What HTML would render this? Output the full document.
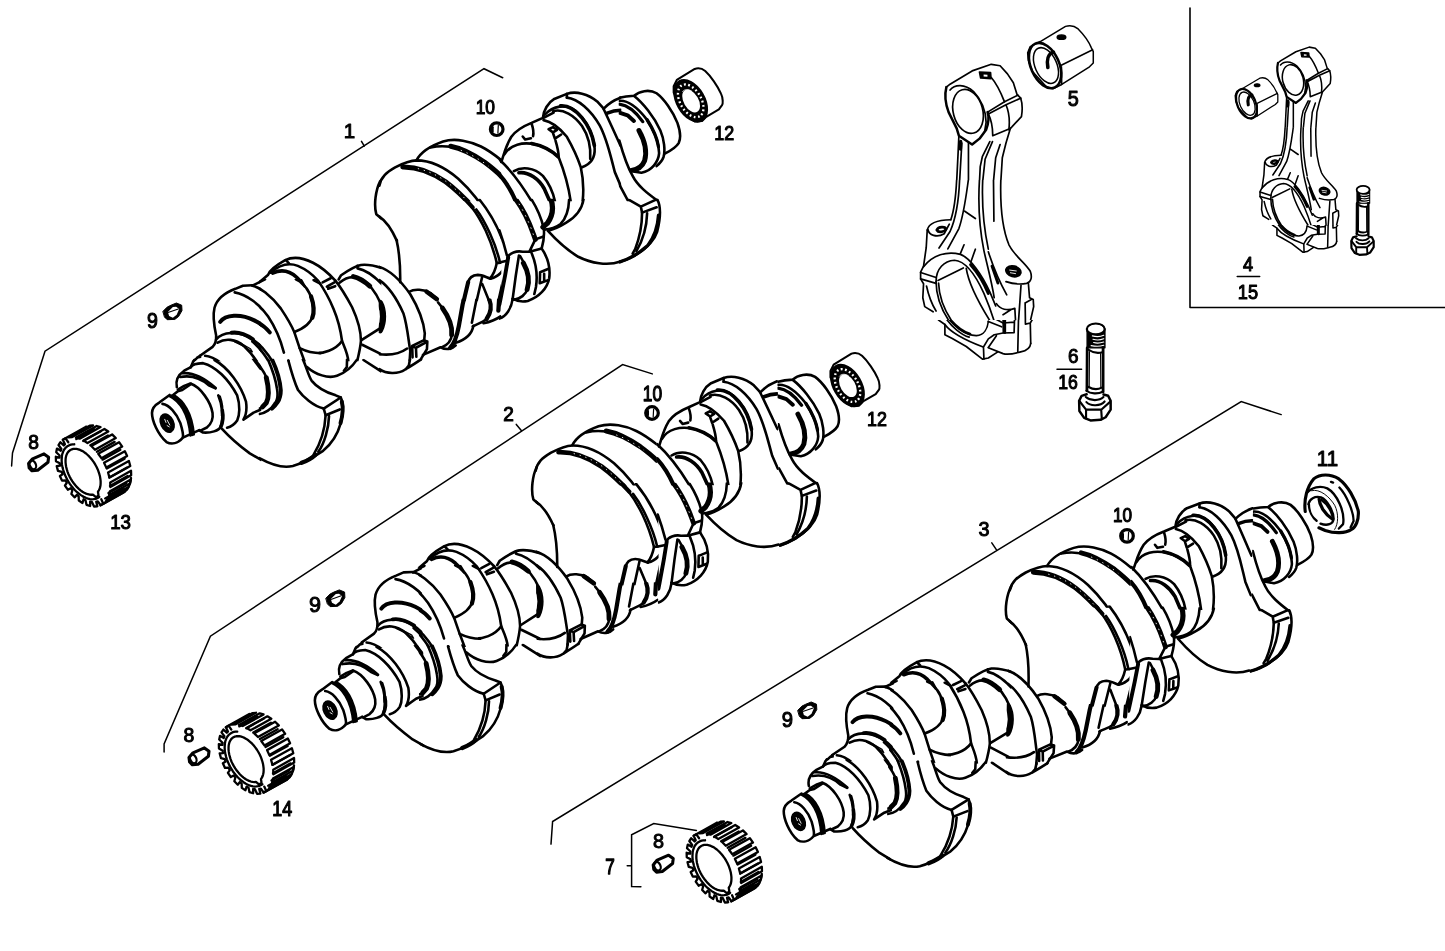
<!DOCTYPE html>
<html><head><meta charset="utf-8"><title>Crankshaft</title>
<style>
html,body{margin:0;padding:0;background:#fff;}
body{width:1445px;height:951px;overflow:hidden;}
svg{display:block;}
text{font-family:"Liberation Sans",sans-serif;fill:#000;stroke:#000;stroke-width:1px;stroke-linejoin:round;}
</style></head><body>
<svg width="1445" height="951" viewBox="0 0 1445 951" fill="none" stroke="#000" stroke-width="2.6" stroke-linecap="round" stroke-linejoin="round">
<defs>
<clipPath id="c1"><rect x="138.7" y="358.7" width="122.6" height="122.6"/></clipPath>
<clipPath id="c2"><rect x="178.7" y="338.7" width="22.6" height="22.6"/></clipPath>
<clipPath id="c3"><rect x="198.7" y="278.7" width="62.6" height="62.6"/><rect x="198.7" y="338.7" width="62.6" height="22.6"/></clipPath>
<clipPath id="c4"><rect x="258.7" y="278.7" width="62.6" height="62.6"/><rect x="258.7" y="338.7" width="62.6" height="22.6"/></clipPath>
<clipPath id="c5"><rect x="258.7" y="358.7" width="62.6" height="42.6"/><rect x="258.7" y="398.7" width="62.6" height="82.6"/><rect x="318.7" y="358.7" width="62.6" height="42.6"/><rect x="318.7" y="398.7" width="62.6" height="82.6"/></clipPath>
<clipPath id="c6"><rect x="258.7" y="238.7" width="62.6" height="42.6"/><rect x="318.7" y="238.7" width="62.6" height="42.6"/><rect x="318.7" y="278.7" width="62.6" height="62.6"/><rect x="318.7" y="338.7" width="62.6" height="22.6"/></clipPath>
<clipPath id="c7"><rect x="458.7" y="198.7" width="42.6" height="42.6"/><rect x="458.7" y="238.7" width="42.6" height="42.6"/><rect x="458.7" y="278.7" width="42.6" height="22.6"/></clipPath>
<clipPath id="c8"><rect x="378.7" y="238.7" width="82.6" height="42.6"/><rect x="378.7" y="278.7" width="82.6" height="22.6"/><rect x="378.7" y="298.7" width="82.6" height="42.6"/><rect x="378.7" y="338.7" width="82.6" height="22.6"/><rect x="458.7" y="298.7" width="42.6" height="42.6"/><rect x="458.7" y="338.7" width="42.6" height="22.6"/></clipPath>
<clipPath id="c9"><rect x="378.7" y="358.7" width="82.6" height="42.6"/><rect x="378.7" y="398.7" width="82.6" height="82.6"/><rect x="458.7" y="358.7" width="42.6" height="42.6"/><rect x="458.7" y="398.7" width="42.6" height="82.6"/></clipPath>
<clipPath id="c10"><rect x="378.7" y="118.7" width="82.6" height="82.6"/><rect x="378.7" y="198.7" width="82.6" height="42.6"/><rect x="458.7" y="118.7" width="42.6" height="82.6"/></clipPath>
<clipPath id="c11"><rect x="338.7" y="148.7" width="42.6" height="52.6"/><rect x="338.7" y="198.7" width="42.6" height="42.6"/></clipPath>
<clipPath id="c12"><rect x="498.7" y="78.7" width="122.6" height="42.6"/><rect x="498.7" y="118.7" width="122.6" height="32.6"/><rect x="498.7" y="148.7" width="122.6" height="52.6"/></clipPath>
<clipPath id="c13"><rect x="618.7" y="78.7" width="122.6" height="42.6"/><rect x="618.7" y="118.7" width="122.6" height="32.6"/><rect x="618.7" y="148.7" width="122.6" height="52.6"/></clipPath>
<clipPath id="c14"><rect x="498.7" y="198.7" width="122.6" height="42.6"/><rect x="498.7" y="238.7" width="122.6" height="12.6"/><rect x="498.7" y="248.7" width="122.6" height="32.6"/><rect x="498.7" y="278.7" width="122.6" height="22.6"/><rect x="498.7" y="298.7" width="122.6" height="22.6"/></clipPath>
<clipPath id="c15"><rect x="618.7" y="198.7" width="122.6" height="42.6"/><rect x="618.7" y="238.7" width="122.6" height="12.6"/><rect x="618.7" y="248.7" width="122.6" height="32.6"/><rect x="618.7" y="278.7" width="122.6" height="22.6"/><rect x="618.7" y="298.7" width="122.6" height="22.6"/></clipPath>
<clipPath id="c16"><rect x="899.95" y="39.95" width="140.1" height="140.1"/></clipPath>
<clipPath id="c17"><rect x="899.95" y="179.95" width="140.1" height="140.1"/></clipPath>
<clipPath id="c18"><rect x="899.95" y="319.95" width="140.1" height="100.1"/></clipPath>
<g id="bolt">
<g><g transform="translate(1040 310) scale(0.126183)" stroke-width="20.61"><!-- bolt_6.frag -->
<g stroke-width="16.9">
<ellipse cx="442" cy="150" rx="70" ry="42" stroke-width="19.5"/>
<path d="M373,150 L373,300 L515,300 L515,150 Z" fill="#000" stroke-width="10.0"/>
<ellipse cx="442" cy="150" rx="62" ry="34" fill="#fff" stroke="none"/>
<path d="M415,205 C450,215 480,212 505,200 M420,232 C455,242 480,238 505,228 M425,258 C455,266 480,262 505,254 M405,282 C450,292 480,288 505,280" stroke="#fff" stroke-width="9.0"/>
<path d="M374,300 L372,640 M500,300 L500,650" stroke-width="22.1"/>
<path d="M392,330 L390,610 M480,345 L482,610" stroke-width="9.0"/>
<path d="M385,315 C420,340 460,345 495,335 M385,610 C420,630 460,630 490,615"/>
<path d="M368,640 C400,665 460,668 497,648 M363,690 C400,722 470,722 503,690 M368,730 C400,765 480,762 512,725"/>
<path d="M370,668 L330,680 L310,720 L312,800 L350,855 L400,875 L480,870 L520,850 L560,790 L560,720 L540,680 L503,670" stroke-width="19.5"/>
<path d="M315,725 L365,790 L485,790 L555,728 M365,790 L365,860 M485,790 L490,865"/>
</g>
</g></g>
</g>
<g id="brg">
<g><g transform="translate(660 60) scale(0.105152)" stroke-width="24.73"><!-- brg_12.frag -->
<g stroke-width="19.5">
<path d="M130,250 L160,190 L330,85 C360,75 400,80 430,105 C480,150 550,250 580,320 C600,360 600,420 590,430 L560,470 L440,540 L400,580 L330,585 L250,530 L170,400 L130,310 Z"/>
<ellipse cx="292" cy="388" rx="215" ry="130" transform="rotate(60 292 388)" fill="#000"/>
<ellipse cx="292" cy="388" rx="170" ry="100" transform="rotate(60 292 388)" stroke="#fff" stroke-width="22.1" stroke-dasharray="17 24" stroke-linecap="butt"/>
<ellipse cx="296" cy="390" rx="118" ry="70" transform="rotate(60 296 390)" fill="#fff" stroke="none"/>
<path d="M215,300 C230,275 270,275 300,295" stroke="#fff" stroke-width="7.0"/>
</g>
</g></g>
</g>
<g id="bush">
<g><g transform="translate(1010 10) scale(0.126183)" stroke-width="20.61"><!-- bush_5.frag -->
<g stroke-width="12.0">
<path d="M140,340 L160,290 L240,250 L440,130 C470,120 510,125 540,150 C580,190 625,250 645,300 L660,330 L660,420 L630,450 L410,590 L340,625 L290,610 L180,490 L145,400 Z"/>
<ellipse cx="278" cy="440" rx="112" ry="190" transform="rotate(-24 278 440)" stroke-width="20.8"/>
<ellipse cx="285" cy="440" rx="86" ry="150" transform="rotate(-24 285 440)"/>
<path d="M402,440 L655,315 M408,450 L410,590"/>
<ellipse cx="408" cy="215" rx="34" ry="17" fill="#000"/>
<path d="M345,335 C300,345 290,400 300,455" stroke-width="28.6"/>
</g>
</g></g>
</g>
<g id="crank">
<g id="crank_A"><g clip-path="url(#c1)"><g transform="translate(140 360) scale(0.126183)" stroke-width="20.61"><!-- crank_A.frag -->
<path d="M235,277 L155,335 C120,355 95,380 95,420 C95,480 140,590 210,650 C250,672 300,662 340,615 L470,556"/>
<path d="M178,348 C230,355 290,420 320,500 C335,550 345,590 340,612"/>
<ellipse cx="215" cy="500" rx="46" ry="72" transform="rotate(-25 215 500)" fill="#000"/>
<path d="M196,470 L206,495 M216,478 L236,515 M215,520 L232,530" stroke="#fff" stroke-width="7.0"/>
<path d="M235,285 C310,320 385,420 400,597"/>
<path d="M250,282 C325,318 398,420 413,594"/>
<path d="M265,278 C340,316 412,420 426,590"/>
<path d="M265,275 L300,247 L335,238 L405,190"/>
<path d="M300,235 L350,205 L395,188"/>
<path d="M400,187 C480,215 560,330 575,420 C582,470 560,510 530,535 L480,560"/>
<path d="M292,215 C282,170 300,120 350,85 L400,58 C420,35 440,28 500,25 C600,50 700,150 770,280 C795,360 790,440 770,480 C750,510 720,530 690,537"/>
<path d="M340,105 C440,95 540,170 600,222"/>
<path d="M318,135 C420,115 500,160 545,200 L598,225"/>
<path d="M620,280 C650,350 665,450 640,530 C625,560 560,580 500,575 L470,557"/>
<path d="M652,400 C662,450 655,500 640,530" stroke-width="28.6"/>
<path d="M632,290 C650,340 655,400 650,440"/>
<path d="M590,0 C700,60 800,200 840,330 C850,400 840,440 820,472 L900,417 L960,392"/>
<path d="M650,545 C700,600 750,650 870,740 L960,792"/>
<path d="M900,-10 L958,66" stroke-width="28.6"/>
<path d="M402,58 L420,16 L436,-8"/>
</g></g>
</g>
<g id="crank_A2"><g clip-path="url(#c2)"><g transform="translate(180 340) scale(0.115668)" stroke-width="22.48"><!-- crank_A2.frag -->
<path d="M95,236 L112,190 L150,152 L180,132 M150,152 C175,142 200,138 225,140"/>
</g></g>
</g>
<g id="crank_B"><g clip-path="url(#c3)"><g transform="translate(200 280) scale(0.126183)" stroke-width="20.61"><!-- crank_B.frag -->
<path d="M0,600 L100,530 C120,510 130,480 128,440 C115,380 100,280 115,220 C135,150 200,100 280,70 L340,45 L415,42"/>
<path d="M415,45 L515,-5"/>
<path d="M415,45 C470,55 560,120 640,225 C690,300 730,370 748,415 C775,500 810,600 850,700 C870,760 900,810 960,850"/>
<path d="M275,98 C370,115 470,190 540,290 C600,380 640,480 665,575"/>
<path d="M160,332 C200,275 320,265 430,320 C490,350 530,385 553,415" stroke-width="31.2"/>
<path d="M128,470 C180,410 300,400 400,460 C500,520 600,650 635,800 L640,960"/>
<path d="M250,418 C300,410 360,430 420,470" stroke-width="31.2"/>
<path d="M140,497 C200,460 280,465 350,525 C420,590 490,700 530,800 L540,960"/>
<path d="M535,800 L545,960" stroke-width="44.2"/>
<path d="M275,490 L345,525 L415,570 L400,545 L330,505 Z" stroke-width="10.0"/>
<path d="M415,488 C480,540 560,650 600,760 L615,960"/>
<path d="M40,600 C120,605 200,680 260,750 C310,820 335,890 350,960"/>
<path d="M0,663 C90,675 180,740 240,820 C275,880 295,930 300,960"/>
<path d="M0,765 L60,805 L120,865 M0,795 L50,830 L100,875 M0,880 L55,960 M150,915 L165,960"/>
<path d="M700,640 C720,720 750,810 780,875 L850,960"/>
<path d="M748,412 C830,380 880,340 895,280 C905,200 880,110 840,60 L790,10 L760,-5"/>
<path d="M880,130 C905,200 905,260 890,300" stroke-width="33.8"/>
<path d="M800,0 L830,50 M900,0 L960,32"/>
<path d="M790,540 C850,570 900,580 960,580"/>
<path d="M835,680 C880,710 920,720 960,722"/>
<path d="M870,765 L885,730 L960,790"/>
</g></g>
</g>
<g id="crank_B2"><g clip-path="url(#c4)"><g transform="translate(200 280) scale(0.126183)" stroke-width="20.61"><!-- crank_B2.frag -->
<path d="M0,600 L100,530 C120,510 130,480 128,440 C115,380 100,280 115,220 C135,150 200,100 280,70 L340,45 L415,42"/>
<path d="M415,45 L515,-5"/>
<path d="M415,45 C470,55 560,120 640,225 C690,300 730,370 748,415 C775,500 810,600 850,700 C870,760 900,810 960,850"/>
<path d="M275,98 C370,115 470,190 540,290 C600,380 640,480 665,575"/>
<path d="M160,332 C200,275 320,265 430,320 C490,350 530,385 553,415" stroke-width="31.2"/>
<path d="M128,470 C180,410 300,400 400,460 C500,520 600,650 635,800 L640,960"/>
<path d="M250,418 C300,410 360,430 420,470" stroke-width="31.2"/>
<path d="M140,497 C200,460 280,465 350,525 C420,590 490,700 530,800 L540,960"/>
<path d="M535,800 L545,960" stroke-width="44.2"/>
<path d="M275,490 L345,525 L415,570 L400,545 L330,505 Z" stroke-width="10.0"/>
<path d="M415,488 C480,540 560,650 600,760 L615,960"/>
<path d="M40,600 C120,605 200,680 260,750 C310,820 335,890 350,960"/>
<path d="M0,663 C90,675 180,740 240,820 C275,880 295,930 300,960"/>
<path d="M0,765 L60,805 L120,865 M0,795 L50,830 L100,875 M0,880 L55,960 M150,915 L165,960"/>
<path d="M700,640 C720,720 750,810 780,875 L850,960"/>
<path d="M748,412 C830,380 880,340 895,280 C905,200 880,110 840,60 L790,10 L760,-5"/>
<path d="M880,130 C905,200 905,260 890,300" stroke-width="33.8"/>
<path d="M800,0 L830,50 M900,0 L960,32"/>
<path d="M790,540 C850,570 900,580 960,580"/>
<path d="M835,680 C880,710 920,720 960,722"/>
<path d="M870,765 L885,730 L960,790"/>
</g></g>
</g>
<g id="crank_C"><g clip-path="url(#c5)"><g transform="translate(260 360) scale(0.126183)" stroke-width="20.61"><!-- crank_C.frag -->
<path d="M-45,-5 C10,60 45,110 58,160 C75,230 75,290 50,340 C35,370 15,382 -5,385"/>
<path d="M50,140 C72,230 75,290 50,340 L20,372" stroke-width="39.0"/>
<path d="M63,-5 C100,80 125,160 135,230 C145,290 130,330 115,345 C90,390 40,422 -5,428"/>
<path d="M95,-5 C135,80 160,170 165,240 C165,290 150,320 140,335 C130,350 110,375 95,385" stroke-width="31.2"/>
<path d="M225,5 C250,100 280,190 300,235 C340,290 420,365 505,385"/>
<path d="M340,-5 C370,60 385,130 410,165 C450,215 520,255 600,280 L640,297"/>
<path d="M372,55 C440,115 540,150 610,125 C680,100 740,40 770,-5"/>
<path d="M690,-5 L688,55 L665,85 M820,0 L960,90"/>
<path d="M505,385 L640,297 C665,340 660,420 640,500 C615,590 560,670 500,720 L430,765"/>
<path d="M648,330 C662,380 655,440 638,500" stroke-width="31.2"/>
<path d="M505,385 L520,438 L632,392"/>
<path d="M520,438 C515,540 480,660 425,750"/>
<path d="M547,445 C545,540 510,660 462,728"/>
<path d="M-5,778 C80,825 180,860 260,840 C330,820 400,780 440,750"/>
<path d="M330,815 C380,795 420,770 440,750" stroke-width="33.8"/>
</g></g>
</g>
<g id="crank_D"><g clip-path="url(#c6)"><g transform="translate(260 240) scale(0.126183)" stroke-width="20.61"><!-- crank_D.frag -->
<path d="M-5,335 L65,275 C75,240 120,205 200,160 C250,135 330,135 420,180 C490,215 550,270 597,322"/>
<path d="M85,258 C150,200 220,175 300,205 C360,230 420,275 463,326 C500,380 560,490 583,546 C610,610 640,720 650,800 C670,850 695,900 700,960"/>
<path d="M205,160 L230,185"/>
<path d="M100,262 C160,235 230,240 290,295 L335,340" stroke-width="28.6"/>
<path d="M370,385 C420,480 445,570 410,635" stroke-width="41.6"/>
<path d="M410,635 C380,675 320,700 278,718"  stroke-width="28.6"/>
<path d="M496,336 L560,303 M530,369 L590,336 M540,386 L596,366"/>
<path d="M597,322 C620,350 680,440 730,533 C770,620 800,720 800,800 C795,860 780,920 770,960"/>
<path d="M623,313 L643,279 C700,240 760,205 800,198 C860,190 940,210 1030,246"/>
<path d="M630,339 C680,295 730,280 796,306 C860,340 920,420 955,500"/>
<path d="M740,290 C790,300 830,330 870,365" stroke-width="39.0"/>
<path d="M773,205 L773,225 C830,235 900,280 976,359"/>
<path d="M650,800 C600,870 500,905 420,895 C350,885 300,830 278,720"/>
<path d="M810,790 L960,695 M810,830 L960,905"/>
</g></g>
</g>
<g id="crank_E"><g clip-path="url(#c7)"><g transform="translate(460 200) scale(0.105152)" stroke-width="24.73"><!-- crank_E.frag -->
<path d="M50,-5 L120,70" stroke-width="39.0"/>
<path d="M110,65 C200,180 300,380 350,600"/>
<path d="M155,90 C240,200 340,420 378,585"/>
<path d="M185,-5 C270,100 350,240 400,370 L452,530 L458,600"/>
<path d="M350,600 L445,590 M350,600 C340,650 320,710 285,745 M445,592 C420,670 370,730 290,748"/>
<path d="M75,790 C85,740 110,715 170,712 C210,712 250,735 290,748"/>
<path d="M78,780 L35,960" stroke-width="39.0"/>
<path d="M210,735 L158,960 M212,800 L275,955"/>
<path d="M455,600 L415,760 L370,960" stroke-width="33.8"/>
<path d="M455,535 C490,495 560,480 650,500"/>
</g></g>
</g>
<g id="crank_F"><g clip-path="url(#c8)"><g transform="translate(380 240) scale(0.126183)" stroke-width="20.61"><!-- crank_F.frag -->
<path d="M130,-5 C150,80 162,200 160,335"/>
<path d="M-5,213 C80,240 170,330 240,430 C300,530 345,640 355,740 L350,800"/>
<path d="M-5,318 C70,370 140,480 185,580 C215,670 225,790 240,880 L235,960"/>
<path d="M0,500 C32,560 32,650 0,715" stroke-width="49.4"/>
<path d="M232,410 C270,385 350,390 400,420 L455,470"/>
<path d="M370,410 L450,468" stroke-width="36.4"/>
<path d="M460,495 C520,560 575,660 570,750 C565,800 530,835 488,852"/>
<path d="M495,540 C545,610 575,680 568,750" stroke-width="39.0"/>
<path d="M255,840 L345,795 L375,805 L285,855 Z M255,840 L258,930 M285,855 L288,925 M375,805 L372,865 L320,950 M292,850 L345,822"/>
<path d="M-5,905 C80,915 160,900 215,860"/>
<path d="M340,910 L480,850 C520,872 570,868 600,835"/>
<path d="M720,290 C695,310 690,340 680,400 L655,510 L625,680 C610,760 590,820 555,855" stroke-width="33.8"/>
<path d="M720,290 C760,270 810,275 850,290 L880,295 C915,260 930,200 925,140 C915,80 890,30 870,-5"/>
<path d="M900,-5 C925,40 945,90 955,140 M930,-5 L955,60"/>
<path d="M808,292 L765,470 L728,655 M740,680 C730,740 680,790 600,815"/>
<path d="M808,340 L850,430 L868,470"/>
<path d="M862,455 C885,520 880,580 840,630 C810,655 770,665 735,685"/>
<path d="M866,470 C885,520 878,580 845,625" stroke-width="33.8"/>
<path d="M950,380 L938,560" stroke-width="33.8"/>
<path d="M820,660 C870,650 920,630 955,605"/>
</g></g>
</g>
<g id="crank_G"><g clip-path="url(#c9)"><g transform="translate(380 360) scale(0.126183)" stroke-width="20.61"><!-- crank_G.frag -->
<path d="M-5,72 C50,110 140,115 200,75 C250,45 290,20 325,-5 M238,-5 L228,45 L205,72"/>
</g></g>
</g>
<g id="crank_H"><g clip-path="url(#c10)"><g transform="translate(380 120) scale(0.126183)" stroke-width="20.61"><!-- crank_H.frag -->
<path d="M-5,520 C10,450 50,415 120,375 C180,345 240,322 290,320 C400,320 520,380 620,465 C720,555 820,690 880,800 L955,960"/>
<path d="M180,372 C300,370 420,420 520,490 C620,565 690,640 745,700" stroke-width="39.0"/>
<path d="M300,385 C400,410 480,450 560,515 C630,575 690,640 735,690" stroke="#fff" stroke-width="7.0" stroke-dasharray="10 38" stroke-linecap="butt"/>
<path d="M745,700 C790,770 840,860 870,960 M770,712 C820,790 870,870 900,960"/>
<path d="M290,318 C320,260 400,205 500,170 C600,140 720,170 800,210 C860,240 920,285 960,318"/>
<path d="M400,218 C520,190 650,225 750,285"/>
<path d="M560,208 C650,225 750,280 830,335 C890,380 930,415 960,445" stroke-width="39.0"/>
<path d="M640,240 C720,270 800,320 860,365" stroke="#fff" stroke-width="7.0" stroke-dasharray="10 40" stroke-linecap="butt"/>
<path d="M-5,765 C50,800 100,880 135,960"/>
</g></g>
</g>
<g id="crank_H0"><g clip-path="url(#c11)"><g transform="translate(340 150) scale(0.105152)" stroke-width="24.73"><!-- crank_H0.frag -->
<path d="M720,90 C600,120 450,200 380,300 C340,380 320,520 345,610 L450,700 C520,780 555,860 570,960"/>
</g></g>
</g>
<g id="crank_I"><g clip-path="url(#c12)"><g transform="translate(500 80) scale(0.126183)" stroke-width="20.61"><!-- crank_I.frag -->
<path d="M10,650 C30,600 40,530 90,450 C130,395 200,360 250,340 L340,300 C345,240 380,180 430,150 L530,110 C600,85 700,110 770,170 L820,225"/>
<path d="M35,590 C80,510 180,490 280,510 C350,530 420,570 460,608"/>
<path d="M250,503 C340,520 420,570 460,608" stroke-width="28.6"/>
<path d="M250,345 C262,380 268,420 262,445 M180,448 L200,472 L245,462 M385,390 L420,373 L452,395 L420,415 Z M420,420 L435,465 L485,432"/>
<path d="M345,318 C410,330 480,390 530,450 C570,520 610,600 640,690 C660,780 665,870 655,960"/>
<path d="M440,480 C455,530 465,570 465,612 C500,700 540,820 560,960"/>
<path d="M355,275 C420,205 520,185 600,245 C680,310 740,430 750,540 C755,620 710,670 650,692"/>
<path d="M480,205 C540,200 600,240 650,300 C700,360 735,440 748,520" stroke-width="28.6"/>
<path d="M420,247 C500,225 590,280 650,365 C700,440 720,540 715,625"/>
<path d="M345,300 L425,258 M530,110 L530,140"/>
<path d="M530,140 C620,150 720,240 790,360 C850,470 880,620 910,730 L955,835"/>
<path d="M820,228 C850,290 900,400 955,520 M820,228 C860,185 900,160 955,140"/>
<path d="M850,262 C890,245 920,240 955,240" stroke-width="28.6"/>
<path d="M-5,630 C60,690 160,810 250,960"/>
<path d="M110,722 C170,685 270,690 340,760 C390,820 420,890 435,960"/>
<path d="M150,735 C230,725 310,790 350,860 L395,960" stroke-width="28.6"/>
<path d="M-5,750 C50,810 90,880 125,960" stroke-width="33.8"/>
</g></g>
</g>
<g id="crank_K"><g clip-path="url(#c13)"><g transform="translate(620 80) scale(0.126183)" stroke-width="20.61"><!-- crank_K.frag -->
<path d="M-5,140 C40,130 80,127 112,125 C150,90 230,70 290,105 C350,150 420,250 455,340 C480,410 480,470 465,500 C440,540 400,560 358,582"/>
<path d="M112,127 C180,180 270,290 320,400 C350,470 360,560 345,610 C335,640 310,665 290,682"/>
<path d="M-5,165 C60,160 140,220 210,310 C270,400 310,500 310,580 C305,650 250,720 170,735 L105,725"/>
<path d="M215,315 C260,385 295,460 305,530" stroke-width="26.0"/>
<path d="M-5,192 C60,200 130,260 180,330" stroke-width="26.0"/>
<path d="M-5,258 L60,280 L110,325" stroke-width="31.2"/>
<path d="M150,400 C195,480 215,570 195,640 C175,690 130,712 90,716" stroke-width="39.0"/>
<path d="M-5,480 C20,570 60,690 100,760 C140,840 220,900 295,955 M-5,830 L65,960"/>
</g></g>
</g>
<g id="crank_L"><g clip-path="url(#c14)"><g transform="translate(500 200) scale(0.126183)" stroke-width="20.61"><!-- crank_L.frag -->
<path d="M125,-5 C180,70 230,170 265,270 L280,312" stroke-width="39.0"/>
<path d="M150,30 C200,110 240,200 268,285" stroke="#fff" stroke-width="7.0" stroke-dasharray="12 40" stroke-linecap="butt"/>
<path d="M250,-5 C290,60 330,150 345,220 C355,270 345,330 330,385"/>
<path d="M405,-5 C425,60 415,130 375,185 L340,215" stroke-width="41.6"/>
<path d="M548,-5 C545,70 520,150 480,190 C440,220 400,232 352,235"/>
<path d="M662,-5 C650,70 600,135 525,180 C480,208 430,232 385,243"/>
<path d="M380,245 C430,300 520,390 620,450 C720,500 850,525 955,488"/>
<path d="M280,312 L345,290 M280,312 L235,405 M235,410 C270,400 300,392 330,385"/>
<path d="M330,385 C375,450 400,540 390,620 C375,700 310,770 220,800 C170,810 130,800 100,782"/>
<path d="M250,420 C280,490 300,590 285,690 L272,745"/>
<path d="M318,572 L385,545 M318,572 L315,660 L382,635 M350,585 L350,640"/>
<path d="M60,455 C75,420 130,400 180,410 L235,410"/>
<path d="M150,440 L125,600 L100,785"/>
<path d="M160,445 C210,520 240,620 220,700 C205,750 160,785 110,790"/>
<path d="M185,500 C225,570 235,650 215,710" stroke-width="39.0"/>
<path d="M65,455 L40,600 L5,780 L-5,830" stroke-width="31.2"/>
<path d="M100,785 C90,860 50,920 -5,940"/>
<path d="M-5,240 C20,310 40,380 55,440 M-5,495 L55,482"/>
</g></g>
</g>
<g id="crank_M"><g clip-path="url(#c15)"><g transform="translate(620 200) scale(0.126183)" stroke-width="20.61"><!-- crank_M.frag -->
<path d="M65,-5 L165,52 L290,-5 M165,52 L175,100 L290,58"/>
<path d="M295,-5 C325,50 320,150 295,250 C270,330 200,390 120,440 C80,462 40,480 -5,492"/>
<path d="M305,120 C300,200 275,290 220,360 C160,415 80,465 0,490" stroke-width="26.0"/>
<path d="M175,100 C175,200 155,300 120,390 L100,425"/>
<path d="M215,105 C212,210 180,320 130,405"/>
</g></g>
</g>
</g>
<g id="gear">
<g><g transform="translate(20 415) scale(0.126183)" stroke-width="20.61"><!-- gear_a.frag -->
<g stroke-width="18.2" stroke-linejoin="round"><path d="M644,668 L660,703 L639,715 L617,684 L611,686 L611,686 L604,687 L613,723 L587,725 L570,689 L563,689 L563,689 L556,687 L556,721 L527,712 L519,676 L511,672 L511,672 L504,668 L495,697 L466,678 L465,644 L458,638 L458,638 L451,632 L434,653 L407,626 L415,596 L408,588 L408,588 L402,580 L379,592 L356,559 L371,537 L366,528 L366,528 L361,518 L333,520 L316,483 L338,470 L334,460 L334,460 L331,451 L301,443 L291,405 L318,402 L316,393 L316,393 L315,383 L285,366 L284,331 L313,338 L313,329 L313,329 L314,321 L287,295 L293,266 L323,283 L325,276 L325,276 L328,269 L305,238 L320,216 L347,241 L351,236 L351,236 L356,232 L340,197 L361,185 L383,216"/>
<path d="M629,649 L619,656 L607,662 L595,665 L582,667 L569,668 L555,666 L540,663 L525,658 L510,651 L495,643 L480,633 L465,622 L450,610 L436,596 L422,581 L409,565 L396,548 L385,530 L374,511 L364,492 L356,473 L348,454 L342,434 L337,415 L333,396 L331,377 L330,359 L331,342 L332,326 L335,310 L340,296 L345,283 L352,271 L360,261 L370,252 L380,245 L391,239 L403,235 L416,233 L430,232"/>
<path d="M578,631 L565,632 L552,631 L538,628 L524,623 L509,616 L495,608 L480,597 L466,585 L452,572 L439,557 L426,541 L414,524 L403,506 L393,488 L384,469 L377,450 L371,431 L366,412 L363,393 L361,376 L361,359 L362,343 L365,328 L369,315 L375,303 L382,292 L390,284 L400,277 L411,272 L422,269 L435,268 L448,269 L462,272 L476,277 L491,284 L505,292 L520,303 L534,315 L548,328 L561,343 L574,359 L586,376 L597,394 L607,412 L616,431 L623,450 L629,469 L634,488 L637,507 L639,524 L639,541 L638,557 L635,572 L631,585 L625,597 L618,608 L622,637 L604,653 Z"/>
<path d="M339,197 L504,105 L527,92 L362,184 Z"/>
<path d="M387,177 L552,85 L579,83 L414,175 Z"/>
<path d="M446,191 L587,112"/>
<path d="M443,179 L608,87 L638,96 L473,188 Z"/>
<path d="M501,206 L641,128"/>
<path d="M504,203 L669,111 L700,130 L535,222 Z"/>
<path d="M557,240 L697,162"/>
<path d="M565,246 L730,154 L759,183 L594,275 Z"/>
<path d="M609,291 L750,213"/>
<path d="M620,307 L785,215 L810,250 L645,342 Z"/>
<path d="M654,354 L795,276"/>
<path d="M666,379 L831,287 L849,325 L684,417 Z"/>
<path d="M688,424 L829,346"/>
<path d="M698,456 L863,364 L874,404 L709,496 Z"/>
<path d="M708,495 L849,417"/>
<path d="M715,534 L880,442 L881,478 L716,570 Z"/>
<path d="M713,562 L853,484"/>
<path d="M713,604 L878,512 L871,543 L706,635 Z"/>
<path d="M701,619 L842,541"/>
<path d="M695,662 L860,570 L845,593 L680,685 Z"/>
<path d="M675,661 L815,583"/>
<path d="M661,703 L826,611 L803,624 L638,716 Z"/>
<path d="M661,703 L826,611"/>
<path d="M830,607 L838,600 L846,591 L853,582 L859,573 L864,562 L869,551 L873,539 L876,526 L878,513 L880,499"/></g>
</g></g>
</g>
<g id="rod">
<g clip-path="url(#c16)"><g transform="translate(900 40) scale(0.147213)" stroke-width="17.66"><!-- rod_1.frag -->
<g stroke-width="11.5">
<path d="M315,320 L340,300 L490,210 L620,165 L680,175 L730,230 L770,290 L795,370 L820,395 C835,440 830,490 825,520 L760,590 L740,610"/>
<path d="M315,320 C300,380 315,450 330,490 L385,600 L400,650 L490,710 L540,670 L585,610 C600,570 605,520 595,490" stroke-width="16.9"/>
<ellipse cx="462" cy="485" rx="100" ry="152" transform="rotate(-15 462 485)"/>
<path d="M340,340 C370,300 440,295 500,350 C550,400 585,480 585,560 L575,620"/>
<path d="M540,218 L615,222 L618,262 L548,258 Z" fill="#000"/><path d="M568,234 L594,236 L594,250 L568,248 Z" fill="#fff" stroke="none"/>
<path d="M620,255 C660,300 690,370 710,420"/>
<path d="M595,490 L710,420 L800,375 M600,503 L720,440 L820,395 M720,440 C745,500 745,560 740,605 M597,495 C620,540 630,600 630,650 L740,605"/>
<path d="M400,650 L395,760 L385,960 M420,700 L405,960 M465,700 L465,960 M610,690 L560,790 L545,860 L540,960 M628,690 L578,810 L562,960 M680,710 L650,800 L635,960 M750,600 L720,700 L695,800 L685,960"/>
<path d="M412,690 L410,740" stroke-width="23.4"/>
</g>
</g></g>
<g clip-path="url(#c17)"><g transform="translate(900 180) scale(0.147213)" stroke-width="17.66"><!-- rod_2.frag -->
<g stroke-width="11.5">
<path d="M385,-5 C380,100 370,200 345,270 M405,-5 C400,130 385,250 340,350 L265,462 M465,-5 C450,100 435,230 400,330 L325,468 M440,212 L512,262"/>
<path d="M540,-5 C530,150 540,330 570,480 C590,570 625,700 640,800 M562,-5 C555,150 570,330 600,470 M635,-5 L638,280"/>
<path d="M685,-5 C680,150 695,330 740,440 C780,520 850,560 885,620 C900,660 890,695 860,702 C810,712 750,700 720,690"/>
<ellipse cx="770" cy="620" rx="52" ry="36" transform="rotate(15 770 620)" fill="#000"/><path d="M745,612 L790,618 M750,630 L785,636" stroke="#fff" stroke-width="6.0"/>
<path d="M600,488 C630,580 680,700 725,780"/><path d="M625,585 L665,700" stroke-width="19.5"/>
<path d="M185,340 C195,295 240,272 345,270 M190,335 C195,375 250,395 300,365 L335,300"/>
<path d="M250,340 C260,315 310,315 312,335 C300,355 260,360 250,340" stroke-width="18.2"/>
<path d="M185,340 L178,460 L160,585 L140,625 L140,672 L160,705 L155,800 L168,860 L225,895"/>
<path d="M160,590 C220,510 320,480 410,505 C480,530 560,650 610,760 L650,855"/>
<path d="M245,690 C245,600 300,550 370,545 C450,550 520,660 570,770 C600,840 625,910 640,960"/>
<path d="M480,575 C530,630 575,710 600,770" stroke-width="20.8"/>
<path d="M430,597 L258,682 M140,628 L245,662 M140,672 L245,702"/>
<path d="M245,690 C245,780 280,880 335,960 M262,700 C265,790 300,880 350,955"/>
<path d="M450,600 C465,700 520,810 610,955 M435,440 L410,500 M512,470 L482,555 M180,720 C195,790 220,850 245,890"/>
<path d="M655,840 C680,880 730,890 780,872 L785,960 M700,915 L755,880 M872,702 L880,800 L905,812 L908,860 L885,960 M822,715 L805,960 M850,835 L892,812 M850,835 L852,960"/>
</g>
</g></g>
<g clip-path="url(#c18)"><g transform="translate(900 280) scale(0.147213)" stroke-width="17.66"><!-- rod_3.frag -->
<g stroke-width="11.5">
<path d="M240,230 L262,272 L305,302 L305,372 L355,398 L450,452 L560,537 L600,530 L662,490"/>
<path d="M305,302 C340,350 420,400 565,455"/>
<path d="M290,200 C340,290 440,380 520,378 C570,375 595,330 600,280"/>
<path d="M325,250 C370,310 420,350 475,368" stroke-width="19.5"/>
<path d="M305,250 C350,320 420,375 470,388"/>
<path d="M567,455 L570,537 M567,455 L600,400 L640,372 L700,360 M600,458 L655,378"/>
<path d="M600,460 L700,500 C740,512 790,495 820,488 C860,480 885,460 888,430"/>
<path d="M700,235 L702,360 L775,358 L780,200 M702,292 L775,286"/><path d="M712,240 L712,358" stroke-width="18.2"/>
<path d="M805,260 L800,485 M780,270 L850,245 M905,125 L910,250 L885,292 L888,432 M850,165 L852,300 L885,292"/>
<path d="M600,282 L690,318 M612,245 L700,292"/>
</g>
</g></g>
</g>
<g id="rods">
<g clip-path="url(#c16)"><g transform="translate(900 40) scale(0.147213)" stroke-width="22.96"><!-- rod_1.frag -->
<g stroke-width="14.95">
<path d="M315,320 L340,300 L490,210 L620,165 L680,175 L730,230 L770,290 L795,370 L820,395 C835,440 830,490 825,520 L760,590 L740,610"/>
<path d="M315,320 C300,380 315,450 330,490 L385,600 L400,650 L490,710 L540,670 L585,610 C600,570 605,520 595,490" stroke-width="21.97"/>
<ellipse cx="462" cy="485" rx="100" ry="152" transform="rotate(-15 462 485)"/>
<path d="M340,340 C370,300 440,295 500,350 C550,400 585,480 585,560 L575,620"/>
<path d="M540,218 L615,222 L618,262 L548,258 Z" fill="#000"/><path d="M568,234 L594,236 L594,250 L568,248 Z" fill="#fff" stroke="none"/>
<path d="M620,255 C660,300 690,370 710,420"/>
<path d="M595,490 L710,420 L800,375 M600,503 L720,440 L820,395 M720,440 C745,500 745,560 740,605 M597,495 C620,540 630,600 630,650 L740,605"/>
<path d="M400,650 L395,760 L385,960 M420,700 L405,960 M465,700 L465,960 M610,690 L560,790 L545,860 L540,960 M628,690 L578,810 L562,960 M680,710 L650,800 L635,960 M750,600 L720,700 L695,800 L685,960"/>
<path d="M412,690 L410,740" stroke-width="30.42"/>
</g>
</g></g>
<g clip-path="url(#c17)"><g transform="translate(900 180) scale(0.147213)" stroke-width="22.96"><!-- rod_2.frag -->
<g stroke-width="14.95">
<path d="M385,-5 C380,100 370,200 345,270 M405,-5 C400,130 385,250 340,350 L265,462 M465,-5 C450,100 435,230 400,330 L325,468 M440,212 L512,262"/>
<path d="M540,-5 C530,150 540,330 570,480 C590,570 625,700 640,800 M562,-5 C555,150 570,330 600,470 M635,-5 L638,280"/>
<path d="M685,-5 C680,150 695,330 740,440 C780,520 850,560 885,620 C900,660 890,695 860,702 C810,712 750,700 720,690"/>
<ellipse cx="770" cy="620" rx="52" ry="36" transform="rotate(15 770 620)" fill="#000"/><path d="M745,612 L790,618 M750,630 L785,636" stroke="#fff" stroke-width="7.80"/>
<path d="M600,488 C630,580 680,700 725,780"/><path d="M625,585 L665,700" stroke-width="25.35"/>
<path d="M185,340 C195,295 240,272 345,270 M190,335 C195,375 250,395 300,365 L335,300"/>
<path d="M250,340 C260,315 310,315 312,335 C300,355 260,360 250,340" stroke-width="23.66"/>
<path d="M185,340 L178,460 L160,585 L140,625 L140,672 L160,705 L155,800 L168,860 L225,895"/>
<path d="M160,590 C220,510 320,480 410,505 C480,530 560,650 610,760 L650,855"/>
<path d="M245,690 C245,600 300,550 370,545 C450,550 520,660 570,770 C600,840 625,910 640,960"/>
<path d="M480,575 C530,630 575,710 600,770" stroke-width="27.04"/>
<path d="M430,597 L258,682 M140,628 L245,662 M140,672 L245,702"/>
<path d="M245,690 C245,780 280,880 335,960 M262,700 C265,790 300,880 350,955"/>
<path d="M450,600 C465,700 520,810 610,955 M435,440 L410,500 M512,470 L482,555 M180,720 C195,790 220,850 245,890"/>
<path d="M655,840 C680,880 730,890 780,872 L785,960 M700,915 L755,880 M872,702 L880,800 L905,812 L908,860 L885,960 M822,715 L805,960 M850,835 L892,812 M850,835 L852,960"/>
</g>
</g></g>
<g clip-path="url(#c18)"><g transform="translate(900 280) scale(0.147213)" stroke-width="22.96"><!-- rod_3.frag -->
<g stroke-width="14.95">
<path d="M240,230 L262,272 L305,302 L305,372 L355,398 L450,452 L560,537 L600,530 L662,490"/>
<path d="M305,302 C340,350 420,400 565,455"/>
<path d="M290,200 C340,290 440,380 520,378 C570,375 595,330 600,280"/>
<path d="M325,250 C370,310 420,350 475,368" stroke-width="25.35"/>
<path d="M305,250 C350,320 420,375 470,388"/>
<path d="M567,455 L570,537 M567,455 L600,400 L640,372 L700,360 M600,458 L655,378"/>
<path d="M600,460 L700,500 C740,512 790,495 820,488 C860,480 885,460 888,430"/>
<path d="M700,235 L702,360 L775,358 L780,200 M702,292 L775,286"/><path d="M712,240 L712,358" stroke-width="23.66"/>
<path d="M805,260 L800,485 M780,270 L850,245 M905,125 L910,250 L885,292 L888,432 M850,165 L852,300 L885,292"/>
<path d="M600,282 L690,318 M612,245 L700,292"/>
</g>
</g></g>
</g>
<g id="bushs">
<g><g transform="translate(1010 10) scale(0.126183)" stroke-width="26.79"><!-- bush_5.frag -->
<g stroke-width="15.60">
<path d="M140,340 L160,290 L240,250 L440,130 C470,120 510,125 540,150 C580,190 625,250 645,300 L660,330 L660,420 L630,450 L410,590 L340,625 L290,610 L180,490 L145,400 Z"/>
<ellipse cx="278" cy="440" rx="112" ry="190" transform="rotate(-24 278 440)" stroke-width="27.04"/>
<ellipse cx="285" cy="440" rx="86" ry="150" transform="rotate(-24 285 440)"/>
<path d="M402,440 L655,315 M408,450 L410,590"/>
<ellipse cx="408" cy="215" rx="34" ry="17" fill="#000"/>
<path d="M345,335 C300,345 290,400 300,455" stroke-width="37.18"/>
</g>
</g></g>
</g>
<g id="bolts">
<g><g transform="translate(1040 310) scale(0.126183)" stroke-width="25.76"><!-- bolt_6.frag -->
<g stroke-width="21.12">
<ellipse cx="442" cy="150" rx="70" ry="42" stroke-width="24.38"/>
<path d="M373,150 L373,300 L515,300 L515,150 Z" fill="#000" stroke-width="12.50"/>
<ellipse cx="442" cy="150" rx="62" ry="34" fill="#fff" stroke="none"/>
<path d="M415,205 C450,215 480,212 505,200 M420,232 C455,242 480,238 505,228 M425,258 C455,266 480,262 505,254 M405,282 C450,292 480,288 505,280" stroke="#fff" stroke-width="11.25"/>
<path d="M374,300 L372,640 M500,300 L500,650" stroke-width="27.62"/>
<path d="M392,330 L390,610 M480,345 L482,610" stroke-width="11.25"/>
<path d="M385,315 C420,340 460,345 495,335 M385,610 C420,630 460,630 490,615"/>
<path d="M368,640 C400,665 460,668 497,648 M363,690 C400,722 470,722 503,690 M368,730 C400,765 480,762 512,725"/>
<path d="M370,668 L330,680 L310,720 L312,800 L350,855 L400,875 L480,870 L520,850 L560,790 L560,720 L540,680 L503,670" stroke-width="24.38"/>
<path d="M315,725 L365,790 L485,790 L555,728 M365,790 L365,860 M485,790 L490,865"/>
</g>
</g></g>
</g>
</defs>
<g><g transform="translate(1280 440) scale(0.105152)" stroke-width="24.73"><!-- seal_11.frag -->
<g stroke-width="22.1">
<path d="M240,680 C225,560 260,440 320,370 C380,320 480,320 560,370 C640,430 720,560 745,680 C750,760 720,830 680,850 C620,890 520,890 430,860 L370,835" stroke-width="29.9"/>
<path d="M255,505 C300,450 380,430 450,460 C540,510 620,680 600,800 L560,842"/>
<path d="M300,482 C380,460 470,540 520,620 C560,700 555,800 520,850" stroke-width="9.0"/>
<path d="M270,610 C280,560 330,530 390,545 C450,570 510,680 510,750 C505,800 450,820 385,795"/>
<path d="M372,560 C375,620 420,700 500,752" stroke-width="31.2"/>
<path d="M395,570 C440,600 480,660 498,720"/>
<path d="M275,610 C275,680 310,740 348,768"/>
<path d="M565,452 C630,520 700,680 700,770 L672,830 M485,398 L505,405"/>
</g>
</g></g>

<use href="#crank"/>
<use href="#crank_A" transform="translate(315.8 707.3) rotate(-0.57) scale(0.996) translate(-152 -420) translate(-0.87 -0.14)"/>
<use href="#crank_A2" transform="translate(315.8 707.3) rotate(-0.57) scale(0.996) translate(-152 -420) translate(-0.69 -0.11)"/>
<use href="#crank_B" transform="translate(315.8 707.3) rotate(-0.57) scale(0.996) translate(-152 -420) translate(-1.41 -0.24)"/>
<use href="#crank_B2" transform="translate(315.8 707.3) rotate(-0.57) scale(0.996) translate(-152 -420) translate(-2.50 -0.42)"/>
<use href="#crank_C" transform="translate(315.8 707.3) rotate(-0.57) scale(0.996) translate(-152 -420) translate(-3.04 -0.51)"/>
<use href="#crank_D" transform="translate(315.8 707.3) rotate(-0.57) scale(0.996) translate(-152 -420) translate(-3.04 -0.51)"/>
<use href="#crank_E" transform="translate(315.8 707.3) rotate(-0.57) scale(0.996) translate(-152 -420) translate(-3.65 -0.61)"/>
<use href="#crank_F" transform="translate(315.8 707.3) rotate(-0.57) scale(0.996) translate(-152 -420) translate(-4.38 -0.73)"/>
<use href="#crank_G" transform="translate(315.8 707.3) rotate(-0.57) scale(0.996) translate(-152 -420) translate(-4.38 -0.73)"/>
<use href="#crank_H" transform="translate(315.8 707.3) rotate(-0.57) scale(0.996) translate(-152 -420) translate(-4.38 -0.73)"/>
<use href="#crank_H0" transform="translate(315.8 707.3) rotate(-0.57) scale(0.996) translate(-152 -420) translate(-3.77 -0.63)"/>
<use href="#crank_I" transform="translate(315.8 707.3) rotate(-0.57) scale(0.996) translate(-152 -420) translate(-2.19 -0.37)"/>
<use href="#crank_K" transform="translate(315.8 707.3) rotate(-0.57) scale(0.996) translate(-152 -420) translate(-0.00 -0.00)"/>
<use href="#crank_L" transform="translate(315.8 707.3) rotate(-0.57) scale(0.996) translate(-152 -420) translate(-2.19 -0.37)"/>
<use href="#crank_M" transform="translate(315.8 707.3) rotate(-0.57) scale(0.996) translate(-152 -420) translate(-0.00 -0.00)"/>
<use href="#crank_A" transform="translate(784.5 818) rotate(1.18) scale(0.990) translate(-152 -420) translate(-0.91 -0.05)"/>
<use href="#crank_A2" transform="translate(784.5 818) rotate(1.18) scale(0.990) translate(-152 -420) translate(-0.72 -0.04)"/>
<use href="#crank_B" transform="translate(784.5 818) rotate(1.18) scale(0.990) translate(-152 -420) translate(-1.47 -0.09)"/>
<use href="#crank_B2" transform="translate(784.5 818) rotate(1.18) scale(0.990) translate(-152 -420) translate(-2.60 -0.16)"/>
<use href="#crank_C" transform="translate(784.5 818) rotate(1.18) scale(0.990) translate(-152 -420) translate(-3.17 -0.19)"/>
<use href="#crank_D" transform="translate(784.5 818) rotate(1.18) scale(0.990) translate(-152 -420) translate(-3.17 -0.19)"/>
<use href="#crank_E" transform="translate(784.5 818) rotate(1.18) scale(0.990) translate(-152 -420) translate(-3.80 -0.23)"/>
<use href="#crank_F" transform="translate(784.5 818) rotate(1.18) scale(0.990) translate(-152 -420) translate(-4.56 -0.27)"/>
<use href="#crank_G" transform="translate(784.5 818) rotate(1.18) scale(0.990) translate(-152 -420) translate(-4.56 -0.27)"/>
<use href="#crank_H" transform="translate(784.5 818) rotate(1.18) scale(0.990) translate(-152 -420) translate(-4.56 -0.27)"/>
<use href="#crank_H0" transform="translate(784.5 818) rotate(1.18) scale(0.990) translate(-152 -420) translate(-3.92 -0.24)"/>
<use href="#crank_I" transform="translate(784.5 818) rotate(1.18) scale(0.990) translate(-152 -420) translate(-2.28 -0.14)"/>
<use href="#crank_K" transform="translate(784.5 818) rotate(1.18) scale(0.990) translate(-152 -420) translate(-0.00 -0.00)"/>
<use href="#crank_L" transform="translate(784.5 818) rotate(1.18) scale(0.990) translate(-152 -420) translate(-2.28 -0.14)"/>
<use href="#crank_M" transform="translate(784.5 818) rotate(1.18) scale(0.990) translate(-152 -420) translate(-0.00 -0.00)"/>

<use href="#gear"/>
<use href="#bush"/>
<use href="#bolt"/>
<use href="#rod"/>
<use href="#rods" transform="translate(1306.1 149.65) scale(0.696) translate(-986.8 -211.6)"/>
<use href="#bushs" transform="translate(1256.5 98.3) scale(0.65) translate(-1060.5 -57.3)"/>
<use href="#bolts" transform="translate(1362.5 220.3) scale(0.71) translate(-1094.9 -371.8)"/>
<path d="M1190,8 L1190,307.5 L1445,307.5" stroke-width="1.6"/>
<use href="#brg"/>
<use href="#brg" transform="translate(156.8 284.7)"/>
<defs>
<g id="key9"><path d="M163.1,311.2 L167.2,307.1 L171,305.2 L176.4,303 L181.7,305.2 L182,310.6 L178.6,316.5 L174.8,319.4 L167.2,319.7 L164.7,317.2 Z" fill="#000" stroke-width="1"/><path d="M167.9,312.1 L172.9,307.1 L176.1,306.8 L179.2,309 L176.7,314.7 L172.9,317.8 L169.1,315.9 Z" fill="#fff" stroke="none"/><path d="M168,312.6 L178.3,308.9" stroke-width="1.1"/></g>
<g id="pin8"><path d="M28.6,463.6 L32.6,458.8 L44,453.9 L48.6,457.3 L48,462.3 L37.7,470.2 L32,470.8 L29.2,468 Z" fill="#fff" stroke-width="3.1"/><ellipse cx="32.8" cy="464.8" rx="3" ry="4.6" transform="rotate(-25 32.8 464.8)" stroke-width="2.2"/></g>
<g id="plug10"><circle cx="0" cy="0" r="6.3" stroke-width="3.2"/><path d="M-4.5,-2 L-4.5,2" stroke-width="3"/><path d="M1.6,-3.8 L1.2,3.8" stroke-width="1.2"/></g>
</defs>
<use href="#key9"/><use href="#key9" transform="translate(162.9 286.9)"/><use href="#key9" transform="translate(634.8 399)"/>
<use href="#pin8"/><use href="#pin8" transform="translate(160.4 294)"/><use href="#pin8" transform="translate(624.6 401.3)"/>
<use href="#plug10" transform="translate(496.7 129.2)"/><use href="#plug10" transform="translate(652 413)"/><use href="#plug10" transform="translate(1127 535.9)"/>
<use href="#gear" transform="translate(163 287.3)"/><use href="#gear" transform="translate(630.8 396)"/>
<g stroke-width="1.5" stroke-linejoin="miter">
<path d="M11.6,466 L12.5,453 L45,351.2 L484,68.7 L502.7,77.7 M361.5,141.3 L364.3,146.2"/>
<path d="M164.1,752 L164.1,743.9 L210.4,636.2 L622.6,364.6 L652.3,373.9 M516.3,424.4 L521.5,430.7"/>
<path d="M551,844.1 L552.6,821.5 L1241.2,401.6 L1281.2,414.6 M991.8,542.8 L996.5,549.9"/>
<path d="M627.2,865.8 L631.6,865.8 M640.9,886.7 L631.6,886.4 L631.6,834.8 L653.7,823.6 L696.4,830.5"/>
<path d="M1057,369.3 L1081.6,369.3 M1237.2,276.4 L1259.7,276.4"/>
</g>
<g opacity="0.999"><text transform="translate(343.7 137.5) scale(1 1.000)" font-size="20.5">1</text>
<text transform="translate(503.3 421.0) scale(1 1.097)" font-size="19.1">2</text>
<text transform="translate(978.4 536.3) scale(1 1.042)" font-size="19.8">3</text>
<text transform="translate(1242.9 270.7) scale(1 1.072)" font-size="18.2">4</text>
<text transform="translate(1237.8 299.1) scale(1 1.112)" font-size="18.2">15</text>
<text transform="translate(1067.8 106.3) scale(1 1.093)" font-size="19.8">5</text>
<text transform="translate(1068.0 363.4) scale(1 1.040)" font-size="18.9">6</text>
<text transform="translate(1058.3 389.3) scale(1 1.114)" font-size="17.6">16</text>
<text transform="translate(605.2 873.9) scale(1 1.250)" font-size="17.1">7</text>
<text transform="translate(28.2 448.9) scale(1 1.064)" font-size="19.2">8</text>
<text transform="translate(183.5 742.3) scale(1 1.003)" font-size="19.4">8</text>
<text transform="translate(653.0 847.9) scale(1 0.992)" font-size="19.8">8</text>
<text transform="translate(146.9 327.7) scale(1 1.160)" font-size="19.6">9</text>
<text transform="translate(308.9 611.8) scale(1 1.054)" font-size="21.6">9</text>
<text transform="translate(781.8 726.7) scale(1 1.098)" font-size="20.3">9</text>
<text transform="translate(475.7 114.2) scale(1 1.182)" font-size="17.4">10</text>
<text transform="translate(642.8 400.7) scale(1 1.250)" font-size="17.3">10</text>
<text transform="translate(1112.9 521.6) scale(1 1.223)" font-size="17.1">10</text>
<text transform="translate(1316.8 465.8) scale(1 1.120)" font-size="20.5">11</text>
<text transform="translate(714.2 140.4) scale(1 1.177)" font-size="17.9">12</text>
<text transform="translate(867.0 426.1) scale(1 1.177)" font-size="17.9">12</text>
<text transform="translate(110.2 529.0) scale(1 1.095)" font-size="18.7">13</text>
<text transform="translate(272.3 816.3) scale(1 1.194)" font-size="17.9">14</text>
</g>
</svg>
</body></html>
